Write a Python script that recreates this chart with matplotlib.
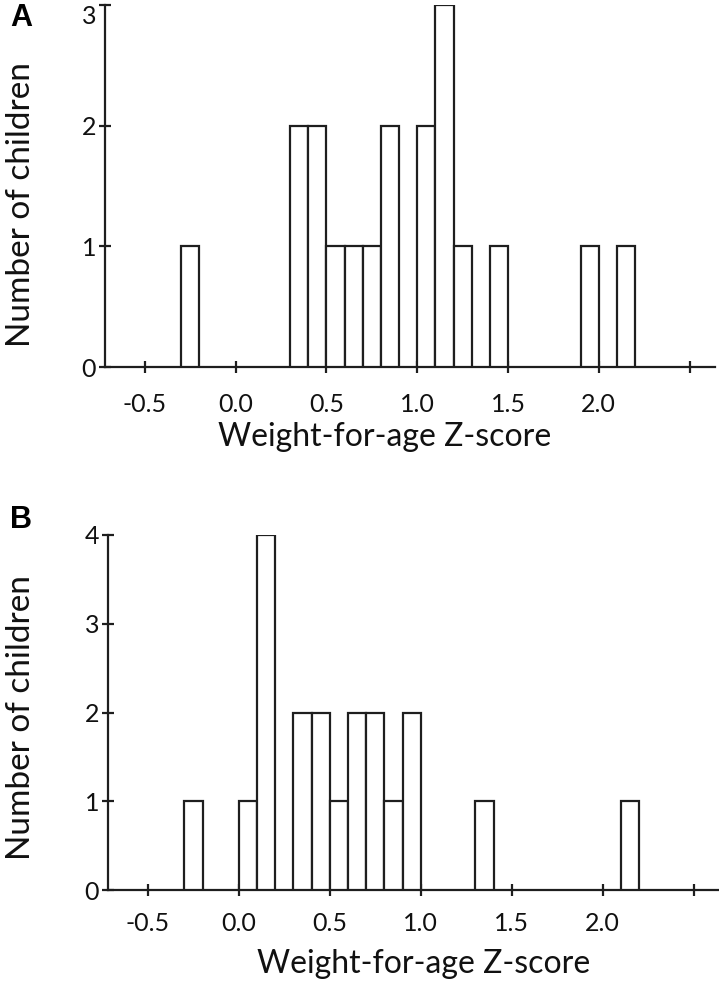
import matplotlib.pyplot as plt

# histogram bins (left edge, width 0.1) and counts
a_left = [-0.3, 0.3, 0.4, 0.5, 0.6, 0.7, 0.8, 1.0, 1.1, 1.2, 1.4, 1.9, 2.1]
a_count = [1, 2, 2, 1, 1, 1, 2, 2, 3, 1, 1, 1, 1]

b_left = [-0.3, 0.0, 0.1, 0.3, 0.4, 0.5, 0.6, 0.7, 0.8, 0.9, 1.3, 2.1]
b_count = [1, 1, 4, 2, 2, 1, 2, 2, 1, 2, 1, 1]

xticks = [-0.5, 0.0, 0.5, 1.0, 1.5, 2.0, 2.5]
xticklabels = ['-0.5', '0.0', '0.5', '1.0', '1.5', '2.0', '']
bin_w = 0.1

W, H = 719, 983
lc = '#1e1e1e'
plt.rcParams['font.family'] = ['Lato', 'DejaVu Sans']

fig = plt.figure(figsize=(W / 100, H / 100), dpi=100)


def panel(rect, left, count, ymax, xpad):
    ax = fig.add_axes(rect)
    ax.bar(left, count, width=bin_w, align='edge', color='white',
           edgecolor=lc, linewidth=1.6, zorder=3)
    ax.set_xlim(-0.72, 2.64)
    ax.set_ylim(0, ymax)
    ax.set_xticks(xticks)
    ax.set_xticklabels(xticklabels)
    ax.set_yticks(range(ymax + 1))
    for s in ['top', 'right']:
        ax.spines[s].set_visible(False)
    for s in ['left', 'bottom']:
        ax.spines[s].set_color(lc)
        ax.spines[s].set_linewidth(1.6)
    ax.tick_params(axis='both', direction='inout', length=9, width=1.6,
                   color=lc, labelsize=18, labelcolor='#111111')
    ax.tick_params(axis='x', pad=xpad)
    ax.tick_params(axis='y', pad=2)
    return ax


# pixel geometry -> figure fractions
axA = panel([105 / W, 1 - 367 / H, 610 / W, 362 / H], a_left, a_count, 3, 14)
axB = panel([108 / W, 1 - 890 / H, 611 / W, 355 / H], b_left, b_count, 4, 11)

# top label of panel A sits just under the tick so it is not clipped
axA.get_yticklabels()[-1].set_va('top')

lab = dict(color='#111111', ha='center', va='center')
fig.text(21 / W, 1 - 205 / H, 'Number of children', rotation=90, fontsize=24, **lab)
fig.text(21 / W, 1 - 718 / H, 'Number of children', rotation=90, fontsize=24, **lab)
fig.text(385 / W, 1 - 437 / H, 'Weight-for-age Z-score', fontsize=23, **lab)
fig.text(424 / W, 1 - 964 / H, 'Weight-for-age Z-score', fontsize=23, **lab)

fig.text(21 / W, 1 - 18 / H, 'A', fontsize=22, fontweight='bold',
         family='Liberation Sans', ha='center', va='center')
fig.text(21 / W, 1 - 520 / H, 'B', fontsize=22, fontweight='bold',
         family='Liberation Sans', ha='center', va='center')

fig.savefig('out.png', dpi=100)
